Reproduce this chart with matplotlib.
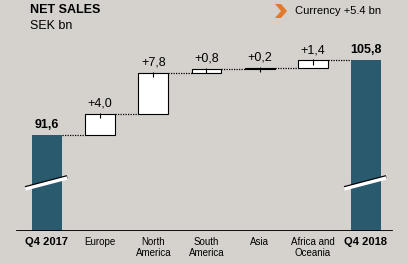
import matplotlib.pyplot as plt
import matplotlib.patheffects as pe
from matplotlib.patches import Polygon
import numpy as np

plt.rcParams['font.family'] = ['Liberation Sans', 'DejaVu Sans']

categories = ["Q4 2017", "Europe", "North\nAmerica", "South\nAmerica", "Asia",
              "Africa and\nOceania", "Q4 2018"]
start_value = 91.6
deltas = [4.0, 7.8, 0.8, 0.2, 1.4]
end_value = 105.8
delta_labels = ["+4,0", "+7,8", "+0,8", "+0,2", "+1,4"]
total_labels = ["91,6", "105,8"]

bg = "#d5d1cd"
teal = "#2a5a6e"
orange = "#e07a2e"

ymin, ymax = 73.3, 117.3
width = 0.564

fig = plt.figure(figsize=(4.08, 2.64), dpi=100, facecolor=bg)
ax = fig.add_axes([0, 33 / 264, 1, 231 / 264])
ax.set_facecolor(bg)
ax.set_xlim(-0.884, 6.79)
ax.set_ylim(ymin, ymax)
for s in ax.spines.values():
    s.set_visible(False)

x = np.arange(len(categories))

# totals
totals = [start_value, end_value]
for xi, v, lab in zip([x[0], x[-1]], totals, total_labels):
    ax.bar(xi, v - ymin, bottom=ymin, width=width, color=teal, zorder=2)
    ax.annotate(lab, (xi, v), xytext=(0, 3), textcoords="offset points",
                ha="center", va="bottom", fontsize=9, fontweight="bold")
    # axis break marks
    ax.plot([xi - 0.41, xi + 0.38], [81.3, 83.4], color="white", lw=2.4,
            solid_capstyle="butt", zorder=4,
            path_effects=[pe.Stroke(linewidth=2.4, foreground="black", offset=(0, 0.9)),
                          pe.Normal()])

# deltas
level = start_value
for i, (d, lab) in enumerate(zip(deltas, delta_labels)):
    xi = x[i + 1]
    ax.bar(xi, d, bottom=level, width=width, color="white", edgecolor="black",
           linewidth=0.8, zorder=2)
    # connector from previous bar
    ax.plot([x[i] + width / 2, xi - width / 2], [level, level], color="black",
            lw=0.9, ls=(0, (1, 1)), zorder=1)
    top = level + d
    ax.vlines(xi, top - 0.8, top + 0.2, color="black", lw=0.8, zorder=3)
    ax.annotate(lab, (xi, top), xytext=(0, 3), textcoords="offset points",
                ha="center", va="bottom", fontsize=9)
    level = top
ax.plot([x[-2] + width / 2, x[-1] - width / 2], [level, level], color="black",
        lw=0.9, ls=(0, (1, 1)), zorder=1)

ax.axhline(ymin, xmin=17 / 408, xmax=392 / 408, color="black", lw=1.3, zorder=5)

ax.set_xticks(x)
ax.set_xticklabels(categories, fontsize=7, linespacing=1.15)
ax.tick_params(axis="x", length=0, pad=4)
ax.tick_params(axis="y", left=False, labelleft=False)
for t in (ax.get_xticklabels()[0], ax.get_xticklabels()[-1]):
    t.set_fontweight("bold")
    t.set_fontsize(8)

fig.text(30 / 408, 1 - 4 / 264, "NET SALES", fontsize=9, fontweight="bold",
         ha="left", va="top")
fig.text(30 / 408, 1 - 20 / 264, "SEK bn", fontsize=9, ha="left", va="top")

chev = np.array([[275, 4], [281, 4], [287, 11], [281, 18], [275, 18], [281, 11]],
                dtype=float)
chev[:, 1] = 264 - chev[:, 1]
chev /= [408, 264]
fig.patches.append(Polygon(chev, closed=True, transform=fig.transFigure,
                           facecolor=orange, edgecolor="none"))
fig.text(295 / 408, 1 - 10.5 / 264, "Currency +5.4 bn", fontsize=8,
         ha="left", va="center")

fig.savefig("out.png", dpi=100, facecolor=bg)
